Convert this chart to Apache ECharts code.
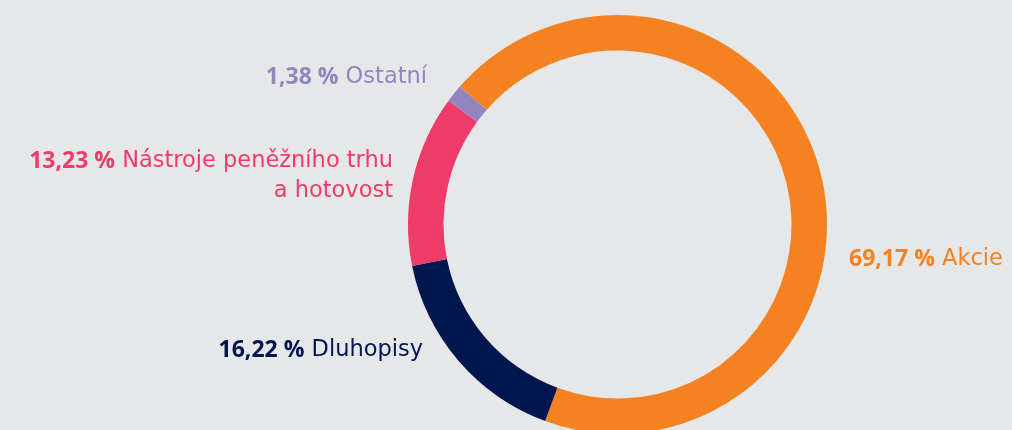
<!DOCTYPE html>
<html><head><meta charset="utf-8">
<script src="https://cdn.jsdelivr.net/npm/echarts@6/dist/echarts.min.js"></script>
<style>html,body{margin:0;padding:0;background:#e6e7e8;}#c{width:1012px;height:430px;}</style>
</head><body><div id="c"></div>
<script>
const categories = ['Akcie', 'Dluhopisy', 'Nástroje peněžního trhu\na hotovost', 'Ostatní'];
const values = [69.17, 16.22, 13.23, 1.38];
const colors = ['#f58220', '#00164e', '#ef3b6a', '#9386c0'];

const labelPos = [
  {x: 849, y: 259, align: 'left'},
  {x: 423, y: 350, align: 'right'},
  {x: 393, y: 176, align: 'right'},
  {x: 427, y: 77, align: 'right'}
];

const fmt = v => v.toFixed(2).replace('.', ',') + ' %';

const chart = echarts.init(document.getElementById('c'));
chart.setOption({
  backgroundColor: '#e6e7e8',
  animation: false,
  series: [{
    type: 'pie',
    center: [617.5, 224.5],
    radius: [174, 209.5],
    startAngle: 138.8,
    clockwise: true,
    avoidLabelOverlap: false,
    labelLine: {show: false},
    data: categories.map((c, i) => ({
      name: c, value: values[i],
      itemStyle: {color: colors[i]},
      label: {
        color: colors[i],
        rich: {
          b: {fontFamily: 'Open Sans', fontWeight: 'bold', fontSize: 23, color: colors[i], lineHeight: 30},
          n: {fontFamily: 'DejaVu Sans', fontSize: 22.5, color: colors[i], lineHeight: 30}
        }
      }
    })),
    label: {
      show: true,
      position: 'outside',
      formatter: p => {
        const lines = p.name.split('\n');
        return '{b|' + fmt(p.value) + '}{n| ' + lines[0] + '}' +
          lines.slice(1).map(l => '\n{n|' + l + '}').join('');
      }
    },
    labelLayout: params => {
      const lp = labelPos[params.dataIndex];
      return {x: lp.x, y: lp.y, align: lp.align, verticalAlign: 'middle'};
    }
  }]
});
</script></body></html>
